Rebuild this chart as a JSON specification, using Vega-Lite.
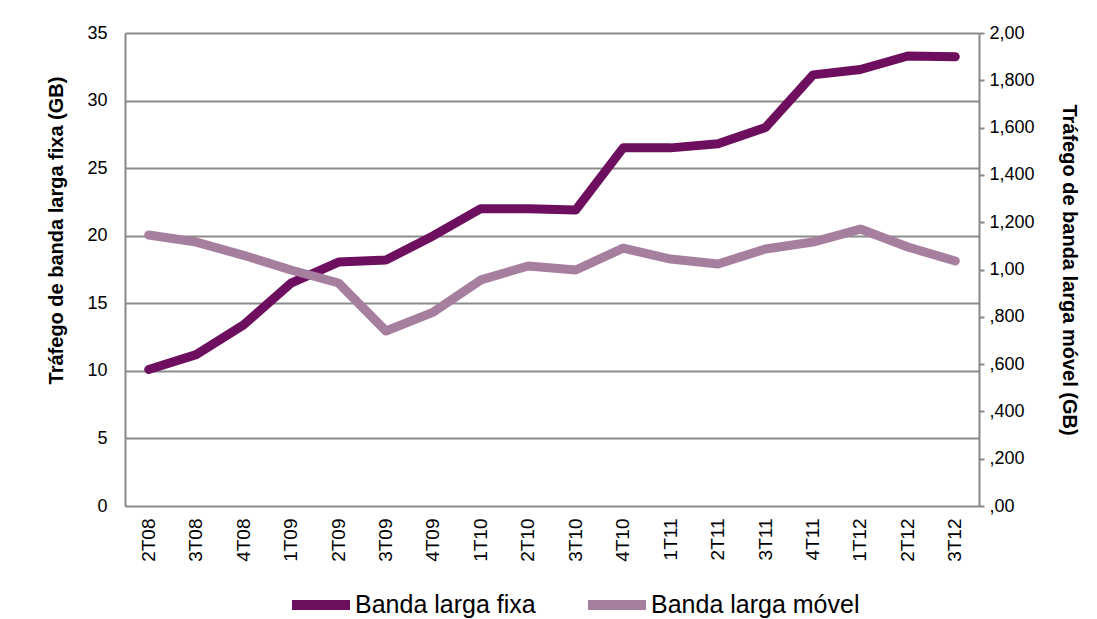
{
  "$schema": "https://vega.github.io/schema/vega-lite/v6.json",
  "autosize": "none",
  "width": 854,
  "height": 473,
  "padding": {"left": 125, "top": 33, "right": 118, "bottom": 113},
  "background": "white",
  "config": {
    "font": "Liberation Sans",
    "view": {"stroke": null},
    "axis": {"labelFont": "Liberation Sans", "titleFont": "Liberation Sans", "labelColor": "#000", "titleColor": "#000", "labelFontSize": 18, "titleFontSize": 20, "titleFontWeight": "bold", "domainColor": "#888", "tickColor": "#888", "gridColor": "#8c8c8c", "domainWidth": 2, "gridWidth": 2, "tickWidth": 2}
  },
  "data": {"values": [
    {"q": "2T08", "s": "Banda larga fixa", "v": 10.1},
    {"q": "3T08", "s": "Banda larga fixa", "v": 11.2},
    {"q": "4T08", "s": "Banda larga fixa", "v": 13.4},
    {"q": "1T09", "s": "Banda larga fixa", "v": 16.5},
    {"q": "2T09", "s": "Banda larga fixa", "v": 18.05},
    {"q": "3T09", "s": "Banda larga fixa", "v": 18.2},
    {"q": "4T09", "s": "Banda larga fixa", "v": 20.0},
    {"q": "1T10", "s": "Banda larga fixa", "v": 22.0},
    {"q": "2T10", "s": "Banda larga fixa", "v": 22.0},
    {"q": "3T10", "s": "Banda larga fixa", "v": 21.9},
    {"q": "4T10", "s": "Banda larga fixa", "v": 26.5},
    {"q": "1T11", "s": "Banda larga fixa", "v": 26.5},
    {"q": "2T11", "s": "Banda larga fixa", "v": 26.8},
    {"q": "3T11", "s": "Banda larga fixa", "v": 28.0},
    {"q": "4T11", "s": "Banda larga fixa", "v": 31.9},
    {"q": "1T12", "s": "Banda larga fixa", "v": 32.3},
    {"q": "2T12", "s": "Banda larga fixa", "v": 33.3},
    {"q": "3T12", "s": "Banda larga fixa", "v": 33.25},
    {"q": "2T08", "s": "Banda larga móvel", "v": 1.146},
    {"q": "3T08", "s": "Banda larga móvel", "v": 1.116},
    {"q": "4T08", "s": "Banda larga móvel", "v": 1.06},
    {"q": "1T09", "s": "Banda larga móvel", "v": 0.998},
    {"q": "2T09", "s": "Banda larga móvel", "v": 0.943},
    {"q": "3T09", "s": "Banda larga móvel", "v": 0.74},
    {"q": "4T09", "s": "Banda larga móvel", "v": 0.82},
    {"q": "1T10", "s": "Banda larga móvel", "v": 0.956},
    {"q": "2T10", "s": "Banda larga móvel", "v": 1.015},
    {"q": "3T10", "s": "Banda larga móvel", "v": 0.998},
    {"q": "4T10", "s": "Banda larga móvel", "v": 1.09},
    {"q": "1T11", "s": "Banda larga móvel", "v": 1.044},
    {"q": "2T11", "s": "Banda larga móvel", "v": 1.023},
    {"q": "3T11", "s": "Banda larga móvel", "v": 1.087},
    {"q": "4T11", "s": "Banda larga móvel", "v": 1.116},
    {"q": "1T12", "s": "Banda larga móvel", "v": 1.171},
    {"q": "2T12", "s": "Banda larga móvel", "v": 1.095},
    {"q": "3T12", "s": "Banda larga móvel", "v": 1.036}
  ]},
  "encoding": {
    "x": {"field": "q", "type": "ordinal", "sort": null, "scale": {"type": "band", "paddingInner": 0, "paddingOuter": 0},
      "axis": {"title": null, "labelAngle": -90, "labelAlign": "right", "labelBaseline": "middle", "labelPadding": 12, "labelFontSize": 19, "ticks": false, "domain": false, "grid": false}},
    "color": {"field": "s", "type": "nominal", "sort": ["Banda larga fixa", "Banda larga móvel"],
      "scale": {"domain": ["Banda larga fixa", "Banda larga móvel"], "range": ["#6d0e5f", "#a67f9f"]},
      "legend": {"title": null, "orient": "none", "legendX": 162, "legendY": 538, "direction": "horizontal", "symbolType": "stroke", "symbolSize": 3364, "symbolStrokeWidth": 10, "labelFontSize": 25, "labelFont": "Liberation Sans", "labelColor": "#000", "labelLimit": 400, "columnPadding": 32, "labelOffset": 0, "symbolOffset": 0}}
  },
  "layer": [
    {
      "transform": [{"filter": "datum.s == 'Banda larga fixa'"}],
      "mark": {"type": "line", "strokeWidth": 9, "strokeCap": "round", "strokeJoin": "round"},
      "encoding": {
        "y": {"field": "v", "type": "quantitative", "scale": {"domain": [0, 35], "nice": false},
          "axis": {"title": "Tráfego de banda larga fixa (GB)", "values": [0, 5, 10, 15, 20, 25, 30, 35], "grid": true, "ticks": false, "labelPadding": 18, "titlePadding": 20, "titleY": 197, "domain": true}}
      }
    },
    {
      "transform": [{"filter": "datum.s == 'Banda larga móvel'"}],
      "mark": {"type": "line", "strokeWidth": 9, "strokeCap": "round", "strokeJoin": "round"},
      "encoding": {
        "y": {"field": "v", "type": "quantitative", "scale": {"domain": [0, 2], "nice": false},
          "axis": {"title": "Tráfego de banda larga móvel (GB)", "orient": "right", "values": [0, 0.2, 0.4, 0.6, 0.8, 1, 1.2, 1.4, 1.6, 1.8, 2], "grid": false, "ticks": true, "tickSize": 5, "labelPadding": 5, "titlePadding": 24, "domain": true,
            "labelExpr": "datum.value == 0 ? ',00' : datum.value < 1 ? ',' + substring(format(datum.value, '.3f'), 2) : datum.value == 1 ? '1,00' : datum.value == 2 ? '2,00' : replace(format(datum.value, '.3f'), '.', ',')"}}
      }
    }
  ],
  "resolve": {"scale": {"y": "independent"}}
}
